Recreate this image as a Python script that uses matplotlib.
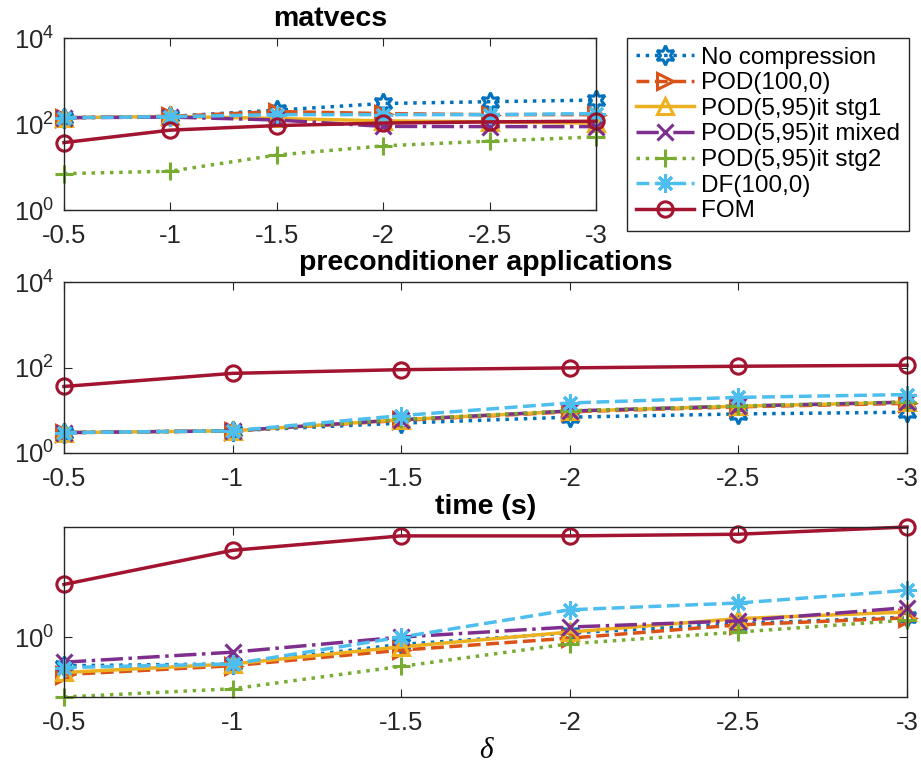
#!/usr/bin/env python3
"""Three stacked log plots: matvecs, preconditioner applications and time vs delta."""
from __future__ import annotations

import matplotlib
matplotlib.use("Agg")
import matplotlib.pyplot as plt
from matplotlib.ticker import FixedLocator, LogFormatterSciNotation, NullLocator

plt.rcParams["font.family"] = ["Liberation Sans", "DejaVu Sans"]
plt.rcParams["mathtext.fontset"] = "custom"
plt.rcParams["mathtext.rm"] = "Liberation Sans"
plt.rcParams["axes.unicode_minus"] = False

delta = [-0.5, -1, -1.5, -2, -2.5, -3]
xtick_labels = ["-0.5", "-1", "-1.5", "-2", "-2.5", "-3"]

labels = [
    "No compression",
    "POD(100,0)",
    "POD(5,95)it stg1",
    "POD(5,95)it mixed",
    "POD(5,95)it stg2",
    "DF(100,0)",
    "FOM",
]

# matvecs
mv_nocomp = [140, 150, 210, 300, 330, 360]
mv_pod = [140, 150, 195, 175, 165, 165]
mv_stg1 = [140, 150, 135, 118, 112, 105]
mv_mixed = [140, 145, 124, 88, 87, 87]
mv_stg2 = [7, 8, 19, 31, 40, 50]
mv_df = [140, 148, 165, 165, 165, 175]
mv_fom = [37, 72, 92, 105, 112, 116]

# preconditioner applications
pa_nocomp = [3.0, 3.3, 5.0, 6.9, 8.2, 9.0]
pa_pod = [3.0, 3.3, 5.8, 9.2, 12.0, 14.5]
pa_stg1 = [3.0, 3.3, 6.0, 9.5, 12.4, 15.4]
pa_mixed = [3.0, 3.3, 6.0, 9.6, 12.5, 15.5]
pa_stg2 = [3.0, 3.3, 6.1, 9.7, 12.6, 15.6]
pa_df = [3.0, 3.3, 7.5, 14.8, 20.0, 23.3]
pa_fom = [36, 73, 89, 98, 107, 113]

# time (s)
t_nocomp = [0.58, 0.60, 0.87, 1.08, 1.29, 1.46]
t_pod = [0.49, 0.58, 0.78, 0.98, 1.26, 1.44]
t_stg1 = [0.51, 0.60, 0.83, 1.10, 1.42, 1.61]
t_mixed = [0.62, 0.75, 1.00, 1.21, 1.36, 1.75]
t_stg2 = [0.32, 0.374, 0.573, 0.88, 1.10, 1.38]
t_df = [0.56, 0.60, 1.00, 1.68, 1.91, 2.43]
t_fom = [2.72, 5.2, 6.84, 6.84, 7.06, 8.1]

colors = ["#0072BD", "#D95319", "#EDB120", "#7E2F8E", "#77AC30", "#4DBEEE", "#A2142F"]
styles = [":", "--", "-", "-.", ":", "--", "-"]
markers = [(6, 1, 0), ">", "^", "x", "+", (8, 2, 0), "o"]
msizes = [14, 11, 11, 11, 13, 13, 11]


def draw(ax, series, title, yticks, ylim):
    for vals, lab, c, ls, m, ms in zip(series, labels, colors, styles, markers, msizes):
        ax.plot(delta, vals, linestyle=ls, color=c, marker=m, markersize=ms,
                markerfacecolor="none", markeredgewidth=2.2, linewidth=2.5, label=lab,
                clip_on=False)
    ax.set_yscale("log")
    ax.set_ylim(*ylim)
    ax.set_xlim(-0.5, -3)
    ax.set_xticks(delta)
    ax.set_xticklabels(xtick_labels)
    ax.yaxis.set_major_locator(FixedLocator(yticks))
    ax.yaxis.set_major_formatter(LogFormatterSciNotation())
    ax.yaxis.set_minor_locator(NullLocator())
    ax.tick_params(direction="in", top=True, right=True, length=6, width=0.8,
                   labelsize=18.5, colors="#262626")
    ax.tick_params(axis="x", pad=10)
    ax.tick_params(axis="y", pad=7)
    for s in ax.spines.values():
        s.set_color("#262626")
        s.set_linewidth(1.0)
    ax.set_title(title, fontsize=20.5, fontweight="bold", pad=9)


def main() -> int:
    fig = plt.figure(figsize=(9.21, 7.65), dpi=100)
    W, H = 921, 765

    def box(x0, y0, x1, y1):
        return [x0 / W, 1 - y1 / H, (x1 - x0) / W, (y1 - y0) / H]

    ax1 = fig.add_axes(box(64, 38, 596, 210))
    ax2 = fig.add_axes(box(64, 282, 907, 453))
    ax3 = fig.add_axes(box(64, 527, 907, 697))

    draw(ax1, [mv_nocomp, mv_pod, mv_stg1, mv_mixed, mv_stg2, mv_df, mv_fom],
         "matvecs", [1, 1e2, 1e4], (1, 1e4))
    draw(ax2, [pa_nocomp, pa_pod, pa_stg1, pa_mixed, pa_stg2, pa_df, pa_fom],
         "preconditioner applications", [1, 1e2, 1e4], (1, 1e4))
    all_t = t_nocomp + t_pod + t_stg1 + t_mixed + t_stg2 + t_df + t_fom
    draw(ax3, [t_nocomp, t_pod, t_stg1, t_mixed, t_stg2, t_df, t_fom],
         "time (s)", [1], (min(all_t), max(all_t)))
    ax3.set_xlabel("δ", fontsize=21, family="Liberation Serif", style="italic",
                   labelpad=2)

    handles, labs = ax1.get_legend_handles_labels()
    leg = fig.legend(handles, labs, loc="upper left",
                     bbox_to_anchor=(627 / W, 1 - 38 / H), fontsize=17.5,
                     frameon=True, fancybox=False, framealpha=1,
                     handlelength=2.4, handletextpad=0.3, labelspacing=0.15,
                     borderpad=0.35, borderaxespad=0)
    leg.get_frame().set_edgecolor("#262626")
    leg.get_frame().set_linewidth(1.0)

    fig.savefig("out.png", dpi=100)
    return 0


if __name__ == "__main__":
    raise SystemExit(main())
